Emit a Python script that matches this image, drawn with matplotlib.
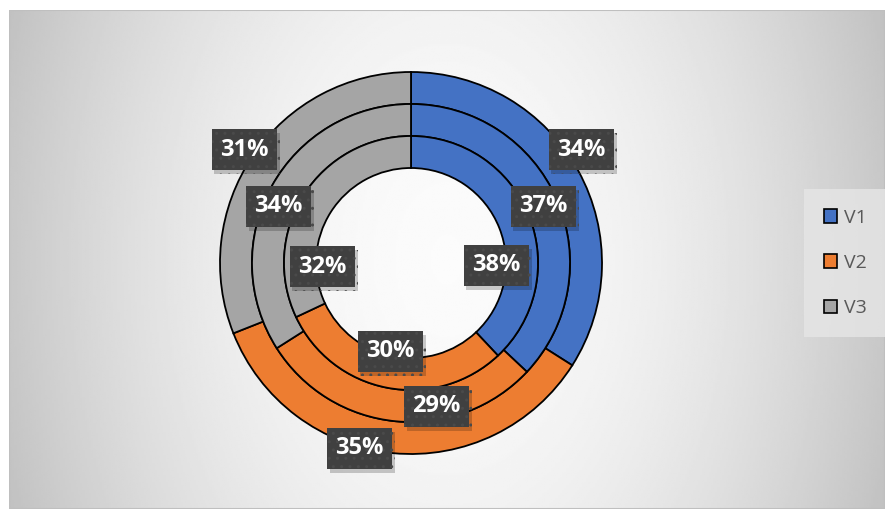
import numpy as np
import matplotlib.pyplot as plt
import matplotlib.patheffects as pe
from matplotlib.patches import Patch, Rectangle

# data (percent), rings from outer to inner
series = ['V1', 'V2', 'V3']
outer = [34, 35, 31]
middle = [37, 29, 34]
inner = [38, 30, 32]
colors = ['#4472C4', '#ED7D31', '#A5A5A5']

W, H = 885, 509
fig = plt.figure(figsize=(W / 100, H / 100), dpi=100)
fig.patch.set_facecolor('white')

# chart area with radial grey gradient
bg = fig.add_axes([9 / W, 0, 1 - 9 / W, 499 / H])
u, v = np.meshgrid(np.linspace(-1, 1, 400), np.linspace(-1, 1, 300))
d = np.sqrt(u ** 2 + 0.15 * v ** 2)
shade = np.clip(0.985 - 0.2 * d ** 1.8, 0, 1)
bg.imshow(shade, cmap='gray', vmin=0, vmax=1, aspect='auto', extent=(0, 1, 0, 1))
bg.add_patch(Rectangle((0, 0), 1, 1, transform=bg.transAxes, fill=False,
                       edgecolor='#BFBFBF', lw=1.5))
bg.axis('off')

# pie axes: center at (411, 263) px, outer radius 191 px
R = 191
cx, cy = 411, H - 263
half = 200
ax = fig.add_axes([(cx - half) / W, (cy - half) / H, 2 * half / W, 2 * half / H])

ring_w = 32 / R
radii = [1.0, 159 / R, 127 / R]
rings = [outer, middle, inner]
offsets = [
    [(17, 29), (-35, -11), (-22, 15)],
    [(1, 0), (39, -1), (-7, -12)],
    [(-18, -43), (0, 21), (5, -63)],
]

for vals, r, offs in zip(rings, radii, offsets):
    ax.pie(vals, radius=r, colors=colors, startangle=90, counterclock=False,
           wedgeprops=dict(width=ring_w, edgecolor='black', linewidth=1.3))
    cum = np.cumsum([0] + vals[:-1])
    total = sum(vals)
    for val, c0, (dx, dy) in zip(vals, cum, offs):
        ang = np.deg2rad(90 - 360 * (c0 + val / 2) / total)
        rm = r - ring_w / 2
        x, y = rm * np.cos(ang), rm * np.sin(ang)
        t = ax.annotate(f'{val}%', (x, y), xytext=(dx, dy), textcoords='offset pixels',
                        ha='center', va='center', fontsize=17, fontweight='bold',
                        family='Open Sans', color='white',
                        bbox=dict(boxstyle='square,pad=0.36', fc='#404040', ec='#4A4A4A',
                                  lw=0, hatch='..'))
        t.get_bbox_patch().set_path_effects([
            pe.SimplePatchShadow(offset=(2, -3), shadow_rgbFace='black', alpha=0.2),
            pe.Normal()])

ax.set_xlim(-half / R, half / R)
ax.set_ylim(-half / R, half / R)
ax.set_aspect('equal')
ax.axis('off')

handles = [Patch(facecolor=c, edgecolor='black', lw=1.2) for c in colors]
leg = fig.legend(handles, series, loc='center', bbox_to_anchor=(845.5 / W, 1 - 263 / H),
                 frameon=True, labelspacing=1.4, handlelength=0.7,
                 handleheight=0.7, handletextpad=0.35, borderpad=0.7, borderaxespad=0,
                 prop={'family': 'Open Sans', 'size': 14})
leg.get_frame().set_facecolor('#E6E6E6')
leg.get_frame().set_edgecolor('none')
leg.get_frame().set_boxstyle('square')
for txt in leg.get_texts():
    txt.set_color('#595959')

fig.savefig('out.png', dpi=100)
